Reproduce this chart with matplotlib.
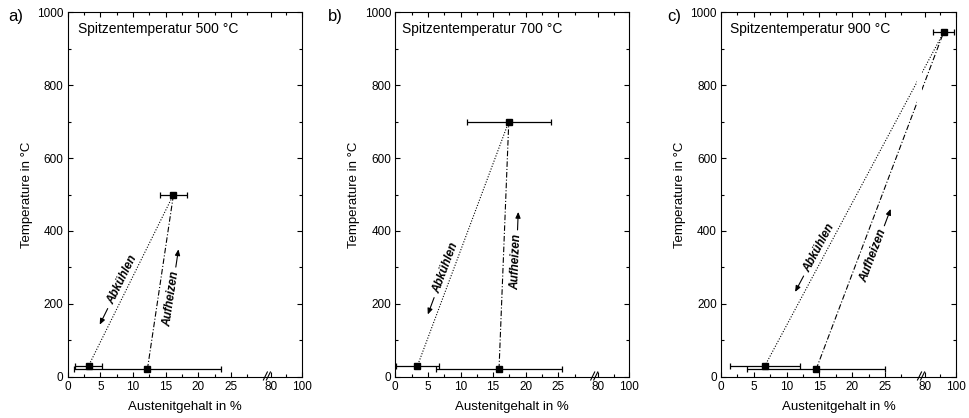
import numpy as np
import matplotlib
matplotlib.use('Agg')
import matplotlib.pyplot as plt
from matplotlib.ticker import FixedLocator, MultipleLocator

plt.rcParams['font.family'] = ['Liberation Sans', 'DejaVu Sans']
plt.rcParams['axes.linewidth'] = 0.8

panels = ['a)', 'b)', 'c)']
titles = ['Spitzentemperatur 500 °C', 'Spitzentemperatur 700 °C', 'Spitzentemperatur 900 °C']

# point at Spitzentemperatur
peak_aust = [16.2, 17.4, 92.0]
peak_aust_err = [2.1, 6.4, 7.0]
peak_temp = [500, 700, 945]
# after Abkuehlen
cool_aust = [3.2, 3.4, 6.7]
cool_aust_err = [2.1, 3.3, 5.3]
cool_temp = [30, 30, 30]
# start of Aufheizen
heat_aust = [12.2, 15.9, 14.5]
heat_aust_err = [11.2, 9.7, 10.5]
heat_temp = [20, 20, 20]

xticks = [0, 5, 10, 15, 20, 25, 80, 100]
xminor = [2.5, 7.5, 12.5, 17.5, 22.5, 27.5, 90]

# broken x axis: 0..30.5 linear, then 80..100 squeezed
brk_data = [0, 30.5, 77.5, 100]
brk_disp = [0, 30.5, 30.51, 35.83]


def fwd(x):
    return np.interp(x, brk_data, brk_disp)


def inv(u):
    return np.interp(u, brk_disp, brk_data)


# layout (pixels at dpi 100)
W, H = 969, 418
ax_lefts = [67.7, 395.3, 721.0]
ax_widths = [234.0, 233.7, 235.0]
ax_bottom, ax_height = 41.3, 364.4
lab_x = [8, 328, 667]
title_x = [0.045, 0.027, 0.038]
t_cool = [0.48, 0.39, 0.342]
t_heat = [0.415, 0.436, 0.351]

fig = plt.figure(figsize=(W / 100, H / 100), dpi=100)


def along_label(ax, p0, p1, t, off, text, back):
    a = ax.transData.transform(p0)
    b = ax.transData.transform(p1)
    v = b - a
    d = v / np.hypot(*v)
    n = np.array([-d[1], d[0]])
    c = a + t * v + off * n
    ang = np.degrees(np.arctan2(d[1], d[0]))
    inv_ax = ax.transAxes.inverted()
    cx, cy = inv_ax.transform(c)
    ax.text(cx, cy, text, transform=ax.transAxes, rotation=ang,
            rotation_mode='anchor', ha='center', va='center',
            fontsize=8.5, fontweight='bold', fontstyle='italic')
    sgn = -1 if back else 1
    tail = c + sgn * d * 32
    head = tail + sgn * d * 18
    ax.annotate('', xy=inv_ax.transform(head), xytext=inv_ax.transform(tail),
                xycoords='axes fraction', textcoords='axes fraction',
                arrowprops=dict(arrowstyle='-|>,head_length=0.35,head_width=0.15',
                                lw=0.8, color='k', shrinkA=0, shrinkB=0))


for i in range(3):
    ax = fig.add_axes([ax_lefts[i] / W, ax_bottom / H, ax_widths[i] / W, ax_height / H])
    ax.set_xscale('function', functions=(fwd, inv))
    ax.set_xlim(0, 100)
    ax.set_ylim(0, 1000)

    # connecting lines
    ax.plot([peak_aust[i], cool_aust[i]], [peak_temp[i], cool_temp[i]],
            color='k', lw=0.8, linestyle=(0, (1, 1.5)), zorder=2)
    ax.plot([heat_aust[i], peak_aust[i]], [heat_temp[i], peak_temp[i]],
            color='k', lw=0.8, linestyle=(0, (5, 1.8, 1, 1.8)), zorder=2)

    # line gap at the axis break
    ax.axvspan(29.9, 77.9, color='white', lw=0, zorder=2.2)

    for xs, es, ys in [(peak_aust, peak_aust_err, peak_temp),
                       (cool_aust, cool_aust_err, cool_temp),
                       (heat_aust, heat_aust_err, heat_temp)]:
        ax.errorbar([xs[i]], [ys[i]], xerr=[es[i]], fmt='s', ms=4.7, color='k',
                    ecolor='k', elinewidth=0.9, capsize=2.2, capthick=0.9, zorder=3)

    ax.xaxis.set_major_locator(FixedLocator(xticks))
    ax.set_xticklabels([str(v) for v in xticks])
    ax.xaxis.set_minor_locator(FixedLocator(xminor))
    ax.yaxis.set_major_locator(MultipleLocator(200))
    ax.yaxis.set_minor_locator(MultipleLocator(100))
    ax.tick_params(which='both', direction='in', top=True, right=True,
                   labelsize=8.5, width=0.8, pad=3)
    ax.tick_params(which='major', length=3.5)
    ax.tick_params(which='minor', length=2)

    ax.set_xlabel('Austenitgehalt in %', fontsize=9.5, labelpad=6)
    ax.set_ylabel('Temperature in °C', fontsize=9.5, labelpad=3)

    ax.text(title_x[i], 0.955, titles[i], transform=ax.transAxes,
            ha='left', va='center', fontsize=10)

    # break marks on the bottom axis
    f = fwd(30.5) / fwd(100)
    for dx in (-0.0065, 0.0065):
        ax.plot([f + dx - 0.0085, f + dx + 0.0085], [-0.009, 0.013],
                transform=ax.transAxes, color='k', lw=0.8, clip_on=False, zorder=5)

    along_label(ax, (cool_aust[i], cool_temp[i]), (peak_aust[i], peak_temp[i]),
                t_cool[i], 8.3, 'Abkühlen', True)
    along_label(ax, (heat_aust[i], heat_temp[i]), (peak_aust[i], peak_temp[i]),
                t_heat[i], -13, 'Aufheizen', False)

    fig.text(lab_x[i] / W, 1 - 17 / H, panels[i], fontsize=12, ha='left', va='center')

fig.savefig('out.png', dpi=100)
